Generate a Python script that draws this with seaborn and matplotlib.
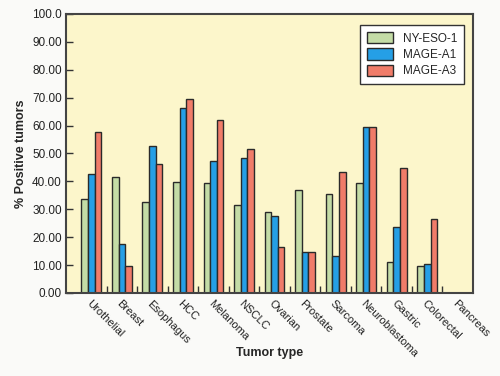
import numpy as np
import pandas as pd
import seaborn as sns
import matplotlib.pyplot as plt

tumors = ['Urothelial', 'Breast', 'Esophagus', 'HCC', 'Melanoma', 'NSCLC', 'Ovarian',
          'Prostate', 'Sarcoma', 'Neuroblastoma', 'Gastric', 'Colorectal', 'Pancreas']
ny_eso_1 = [33.5, 41.5, 32.7, 39.8, 39.4, 31.4, 29.0, 37.0, 35.5, 39.5, 11.2, 9.6, 0]
mage_a1 = [42.5, 17.5, 52.5, 66.4, 47.3, 48.4, 27.5, 14.7, 13.2, 59.4, 23.5, 10.5, 0]
mage_a3 = [57.5, 9.5, 46.3, 69.5, 61.8, 51.6, 16.4, 14.7, 43.5, 59.4, 44.7, 26.5, 0]
antigens = ['NY-ESO-1', 'MAGE-A1', 'MAGE-A3']
colors = ['#c4dca6', '#259fe6', '#f07c69']

df = pd.DataFrame({'tumor': tumors * 3,
                   'antigen': np.repeat(antigens, len(tumors)),
                   'pct': ny_eso_1 + mage_a1 + mage_a3})

sns.set_style('ticks')
plt.rcParams['font.family'] = ['Liberation Sans', 'DejaVu Sans']
plt.rcParams['font.size'] = 8.5

fig = plt.figure(figsize=(5, 3.76), dpi=100, facecolor='#fafaf8')
ax = fig.add_axes([0.132, 0.221, 0.814, 0.742])
ax.set_facecolor('#fcf6cb')

sns.barplot(data=df, x='tumor', y='pct', hue='antigen', palette=colors, saturation=1,
            width=0.65, edgecolor='#2a2a2a', linewidth=1.0, ax=ax)

ax.set_ylim(0, 100)
ax.set_xlim(-0.83, 12.5)
yt = np.arange(0, 101, 10)
ax.set_yticks(yt)
ax.set_yticklabels(['100.0' if v == 100 else f'{v:.2f}' for v in yt], fontsize=8.5, color='#222222')
ax.tick_params(axis='y', direction='in', length=5, width=1, color='#333333', pad=3)

ax.set_xticks(range(len(tumors)))
ax.set_xticklabels(tumors, rotation=-45, ha='left', va='top', rotation_mode='anchor',
                   fontsize=8, color='#222222')
ax.tick_params(axis='x', which='major', length=0, pad=4)
ax.set_xticks(np.arange(0.5, 12, 1), minor=True)
ax.tick_params(axis='x', which='minor', direction='in', length=5, width=1, color='#333333')

for s in ax.spines.values():
    s.set_color('#444444')
    s.set_linewidth(1.5)

ax.set_xlabel('Tumor type', fontsize=9, fontweight='bold')
ax.xaxis.set_label_coords(0.5, -0.215)
ax.xaxis.label.set_va('center')
ax.set_ylabel('% Positive tumors', fontsize=9, fontweight='bold', labelpad=4)

leg = ax.legend(loc='upper right', bbox_to_anchor=(0.978, 0.96), borderaxespad=0,
                frameon=True, fancybox=False,
                edgecolor='#333333', facecolor='white', framealpha=1, fontsize=8.5,
                handlelength=2.2, handleheight=1.1, labelspacing=0.3, borderpad=0.6)
leg.get_frame().set_linewidth(1.0)

fig.savefig('out.png', dpi=100, facecolor=fig.get_facecolor())
